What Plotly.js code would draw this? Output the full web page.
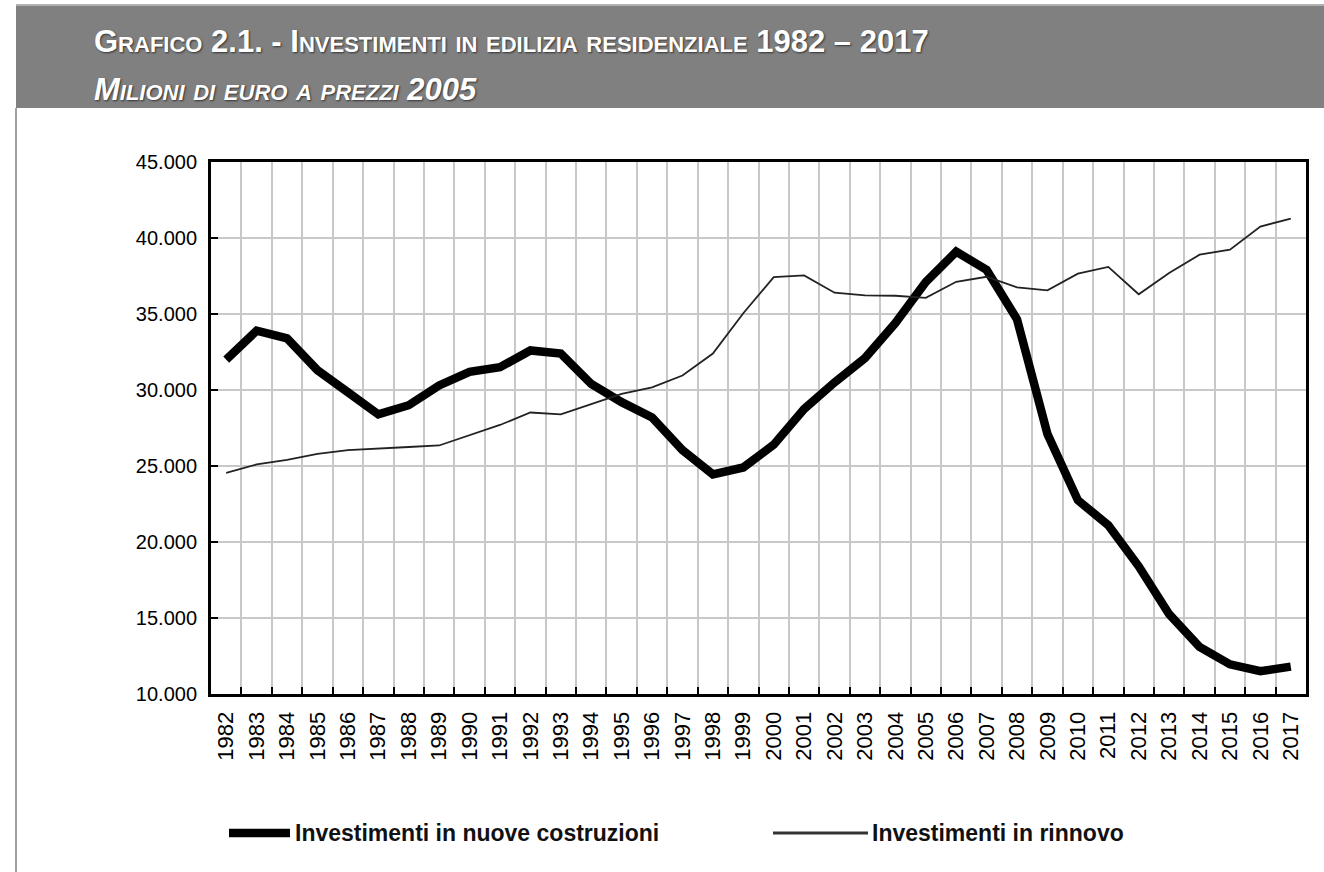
<!DOCTYPE html>
<html>
<head>
<meta charset="utf-8">
<script src="https://cdn.plot.ly/plotly-3.0.1.min.js"></script>
<style>
  html, body { margin: 0; padding: 0; background: #fff; }
  #chart { width: 1324px; height: 872px; }
</style>
</head>
<body>
<div id="chart"></div>
<script>
// anni sull'asse delle categorie
var years = ['1982', '1983', '1984', '1985', '1986', '1987', '1988', '1989', '1990', '1991',
    '1992', '1993', '1994', '1995', '1996', '1997', '1998', '1999', '2000', '2001',
    '2002', '2003', '2004', '2005', '2006', '2007', '2008', '2009', '2010', '2011',
    '2012', '2013', '2014', '2015', '2016', '2017'];

// milioni di euro a prezzi 2005
var nuoveCostruzioni = [32000, 33900, 33400, 31300, 29850, 28400, 29000, 30300, 31200, 31500,
    32600, 32400, 30400, 29200, 28200, 26050, 24450, 24900, 26400, 28750,
    30500, 32100, 34400, 37100, 39100, 37900, 34650, 27100, 22750, 21100,
    18400, 15250, 13100, 11950, 11500, 11800];

var rinnovo = [24550, 25100, 25400, 25800, 26050, 26130, 26250, 26350, 27000, 27700,
    28520, 28400, 29070, 29750, 30170, 30950, 32400, 35050, 37420, 37540,
    36400, 36220, 36200, 36060, 37120, 37450, 36750, 36560, 37650, 38100,
    36300, 37700, 38900, 39230, 40750, 41280];

var yTicks = [10000, 15000, 20000, 25000, 30000, 35000, 40000, 45000];

var titolo = 'Grafico 2.1. - Investimenti in edilizia residenziale 1982 – 2017';
var sottotitolo = 'Milioni di euro a prezzi 2005';
var nomi = ['Investimenti in nuove costruzioni', 'Investimenti in rinnovo'];

var W = 1324, H = 872;
var M = { l: 211, r: 18, t: 162, b: 178 };
var pw = W - M.l - M.r, ph = H - M.t - M.b;

// pixel della pagina -> coordinate paper
function px(x) { return (x - M.l) / pw; }
function py(y) { return (H - M.b - y) / ph; }

var data = [
    {
        x: years,
        y: nuoveCostruzioni,
        name: nomi[0],
        type: 'scatter',
        mode: 'lines',
        line: { color: '#000', width: 8.5 },
    },
    {
        x: years,
        y: rinnovo,
        name: nomi[1],
        type: 'scatter',
        mode: 'lines',
        line: { color: '#222', width: 1.8 },
    }
];

var headFont = {
    family: '"Liberation Sans", Arial, sans-serif',
    color: '#fff',
    weight: 700,
    variant: 'small-caps',
    shadow: '1px 1px 2px #333'
};

var legFont = { family: '"Liberation Sans", Arial, sans-serif', size: 23, color: '#111', weight: 700 };

var layout = {
    width: W,
    height: H,
    margin: { l: M.l, r: M.r, t: M.t, b: M.b, pad: 0 },
    paper_bgcolor: '#fff',
    plot_bgcolor: '#fff',
    separators: ',.',
    showlegend: false,
    font: { family: '"Liberation Sans", Arial, sans-serif', color: '#000' },
    xaxis: {
        type: 'category',
        range: [-0.5, years.length - 0.5],
        tickson: 'boundaries',
        showgrid: true,
        gridcolor: '#c8c8c8',
        gridwidth: 2,
        ticks: 'inside',
        ticklen: 7,
        tickwidth: 2,
        tickcolor: '#000',
        tickangle: -90,
        tickfont: { size: 22, color: '#000' },
        ticklabelstandoff: 6,
        showline: true,
        linecolor: '#000',
        linewidth: 3,
        mirror: true,
        zeroline: false,
        fixedrange: true,
    },
    yaxis: {
        range: [10000, 45000],
        tickvals: yTicks,
        tickformat: ',d',
        showgrid: true,
        gridcolor: '#c8c8c8',
        gridwidth: 2,
        ticks: 'inside',
        ticklen: 7,
        tickwidth: 2,
        tickcolor: '#000',
        tickfont: { size: 20, color: '#000' },
        ticklabelstandoff: 7,
        showline: true,
        linecolor: '#000',
        linewidth: 3,
        mirror: true,
        zeroline: false,
        fixedrange: true,
    },
    shapes: [
        // banda grigia del titolo
        {
            type: 'rect', xref: 'paper', yref: 'paper',
            x0: px(16), x1: px(1324), y0: py(108), y1: py(5),
            fillcolor: '#808080', line: { width: 0 }, layer: 'below'
        },
        {
            type: 'line', xref: 'paper', yref: 'paper',
            x0: px(16), x1: px(1324), y0: py(5), y1: py(5),
            line: { color: '#b0b0b0', width: 2 }
        },
        // bordo sinistro della cornice
        {
            type: 'line', xref: 'paper', yref: 'paper',
            x0: px(16), x1: px(16), y0: py(108), y1: py(872),
            line: { color: '#a0a0a0', width: 2 }
        },
        // campioni della legenda
        {
            type: 'line', xref: 'paper', yref: 'paper',
            x0: px(229), x1: px(290), y0: py(833), y1: py(833),
            line: { color: '#000', width: 8.5 }
        },
        {
            type: 'line', xref: 'paper', yref: 'paper',
            x0: px(773), x1: px(868), y0: py(833), y1: py(833),
            line: { color: '#333', width: 3 }
        }
    ],
    annotations: [
        {
            text: titolo,
            xref: 'paper', yref: 'paper',
            x: px(92), y: py(42),
            xanchor: 'left', yanchor: 'middle',
            showarrow: false,
            font: Object.assign({ size: 31 }, headFont),
        },
        {
            text: '<i>' + sottotitolo + '</i>',
            xref: 'paper', yref: 'paper',
            x: px(92), y: py(90),
            xanchor: 'left', yanchor: 'middle',
            showarrow: false,
            font: Object.assign({ size: 31, style: 'italic' }, headFont),
        },
        {
            text: nomi[0],
            xref: 'paper', yref: 'paper',
            x: px(293), y: py(833),
            xanchor: 'left', yanchor: 'middle',
            showarrow: false,
            font: legFont,
        },
        {
            text: nomi[1],
            xref: 'paper', yref: 'paper',
            x: px(870), y: py(833),
            xanchor: 'left', yanchor: 'middle',
            showarrow: false,
            font: legFont,
        }
    ]
};

Plotly.newPlot('chart', data, layout, { staticPlot: true });
</script>
</body>
</html>
